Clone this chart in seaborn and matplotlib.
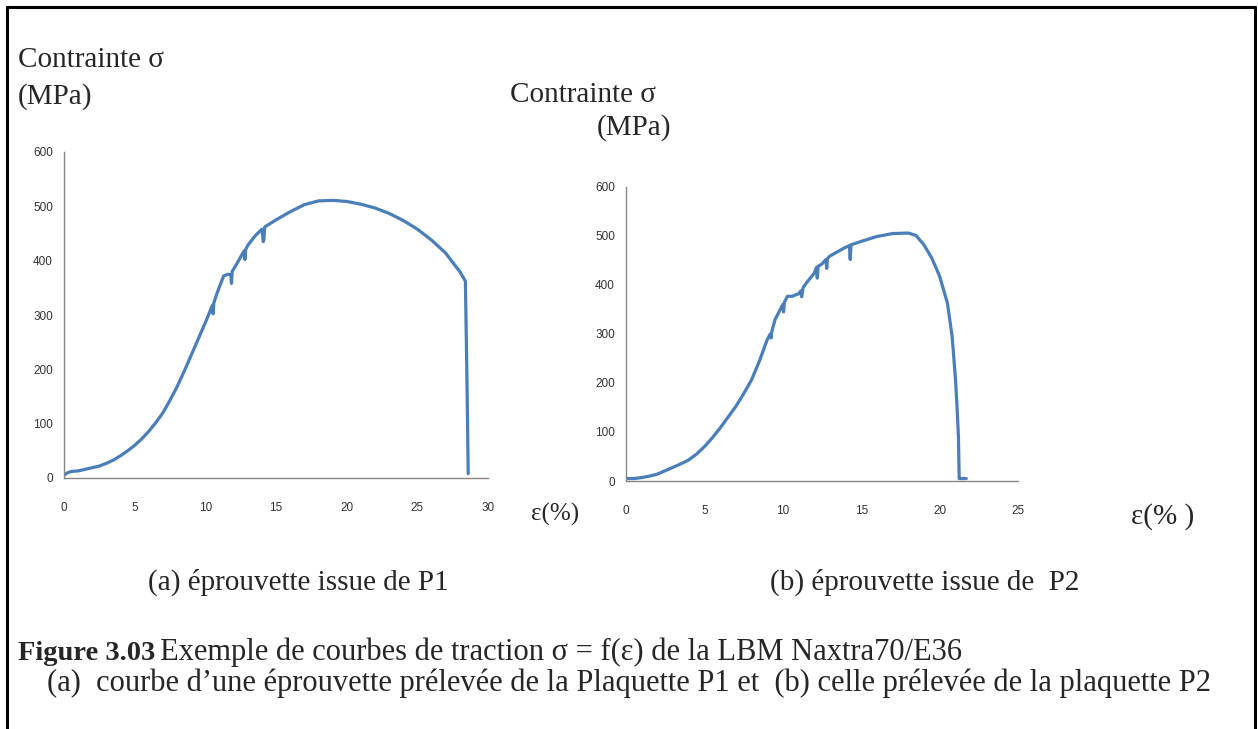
import matplotlib
matplotlib.use("Agg")
import matplotlib.pyplot as plt
from matplotlib.lines import Line2D
import seaborn as sns
import pandas as pd

# courbe (a) : eprouvette issue de P1
eps_p1 = [0, 0.2, 0.5, 1, 1.5, 2, 2.5, 3, 3.5, 4, 4.5, 5, 5.5, 6, 6.5, 7, 7.5, 8,
          8.5, 9, 9.5, 10, 10.3, 10.5, 10.55, 10.6, 10.8, 11, 11.3, 11.6, 11.8,
          11.85, 11.9, 12.2, 12.5, 12.75, 12.8, 12.85, 13, 13.5, 14, 14.1, 14.15,
          14.2, 15, 16, 17, 18, 19, 20, 21, 22, 23, 24, 25, 26, 27, 28, 28.3,
          28.4, 28.5, 28.6]
sig_p1 = [5, 9, 12, 13, 16, 19, 22, 27, 33, 41, 50, 60, 72, 86, 102, 120, 143, 168,
          196, 226, 256, 286, 305, 318, 302, 322, 338, 352, 372, 375, 374,
          358, 380, 393, 407, 418, 402, 420, 428, 445, 458, 435, 440,
          462, 475, 490, 503, 510, 511, 509, 504, 497, 487, 474, 458, 438, 414, 380, 367,
          362, 200, 8]

# courbe (b) : eprouvette issue de P2
eps_p2 = [0, 0.5, 1, 1.5, 2, 2.5, 3, 3.5, 4, 4.5, 5, 5.5, 6, 6.5, 7, 7.5, 8, 8.5, 9,
          9.2, 9.25, 9.3, 9.5, 10, 10.05, 10.1, 10.3, 10.6, 11, 11.15, 11.2, 11.3,
          11.5, 12, 12.15, 12.2, 12.25, 12.5, 12.75, 12.8, 12.85, 13, 13.5, 14,
          14.25, 14.3, 14.35, 15, 16, 17, 18, 18.5, 19, 19.5, 20, 20.5, 20.8, 21,
          21.1, 21.2, 21.25, 21.3, 21.7]
sig_p2 = [5, 5, 7, 10, 14, 21, 28, 35, 43, 55, 70, 88, 108, 130, 152, 178, 206, 244, 288,
          300, 292, 305, 329, 360, 345, 365, 377, 377, 382, 388, 376, 395,
          404, 424, 436, 414, 438, 443, 452, 434, 454, 459, 468, 477,
          480, 452, 482, 489, 499, 505, 506, 501, 482, 455, 418, 363, 295, 213,
          159, 91, 5, 5, 5]

x_ticks_p1 = [0, 5, 10, 15, 20, 25, 30]
x_ticks_p2 = [0, 5, 10, 15, 20, 25]
y_ticks = [0, 100, 200, 300, 400, 500, 600]

W, H = 1258, 729
BLUE = "#4a7ebb"
GREY = "#868686"
SERIF = ["Liberation Serif", "DejaVu Serif"]

sns.set_style("white")
plt.rcParams["font.family"] = ["Liberation Sans", "DejaVu Sans"]

fig = plt.figure(figsize=(W / 100, H / 100), dpi=100)


def px_axes(x0, y0, x1, y1):
    # pixel box (top-left origin) -> axes
    return fig.add_axes([x0 / W, 1 - y1 / H, (x1 - x0) / W, (y1 - y0) / H])


def style_axes(ax, xt):
    ax.set_xlim(xt[0], xt[-1])
    ax.set_ylim(0, 600)
    ax.set_xticks(xt)
    ax.set_yticks(y_ticks)
    ax.set_xlabel("")
    ax.set_ylabel("")
    sns.despine(ax=ax)
    for s in ["left", "bottom"]:
        ax.spines[s].set_color(GREY)
        ax.spines[s].set_linewidth(1)
    ax.tick_params(axis="both", direction="out", length=3, width=0.8, color=GREY,
                   labelsize=8.5, labelcolor="#333333")
    ax.tick_params(axis="x", pad=14)
    ax.tick_params(axis="y", pad=5)


ax1 = px_axes(64, 152, 488, 478)
sns.lineplot(data=pd.DataFrame({"eps": eps_p1, "sig": sig_p1}), x="eps", y="sig",
             ax=ax1, color=BLUE, linewidth=2.3, sort=False, estimator=None)
style_axes(ax1, x_ticks_p1)

ax2 = px_axes(626, 187, 1018, 481)
sns.lineplot(data=pd.DataFrame({"eps": eps_p2, "sig": sig_p2}), x="eps", y="sig",
             ax=ax2, color=BLUE, linewidth=2.3, sort=False, estimator=None)
style_axes(ax2, x_ticks_p2)


def ptext(x, y, s, size=21, **kw):
    fig.text(x / W, 1 - y / H, s, fontsize=size, family=SERIF, va="baseline", **kw)


ptext(18, 67, "Contrainte σ")
ptext(18, 104, "(MPa)")
ptext(510, 102, "Contrainte σ")
ptext(597, 135, "(MPa)")
ptext(531, 521, "ε(%)", size=18)
ptext(1131, 524, "ε(% )", size=21)

ptext(148, 590, "(a) éprouvette issue de P1")
ptext(770, 590, "(b) éprouvette issue de  P2")
fig.text(18 / W, 1 - 660 / H, "Figure 3.03", fontsize=20.5, family=SERIF,
         fontweight="bold", va="baseline")
ptext(160, 660, "Exemple de courbes de traction σ = f(ε) de la LBM Naxtra70/E36", size=22)
ptext(47, 691, "(a)  courbe d’une éprouvette prélevée de la Plaquette P1 et  (b) celle prélevée de la plaquette P2", size=22)

# cadre
for xs, ys in [([7, 7], [729, 7]), ([7, 1255], [7, 7]), ([1255, 1255], [7, 729])]:
    fig.add_artist(Line2D([v / W for v in xs], [1 - v / H for v in ys],
                          color="black", linewidth=2.2))

fig.savefig("out.png", dpi=100)
